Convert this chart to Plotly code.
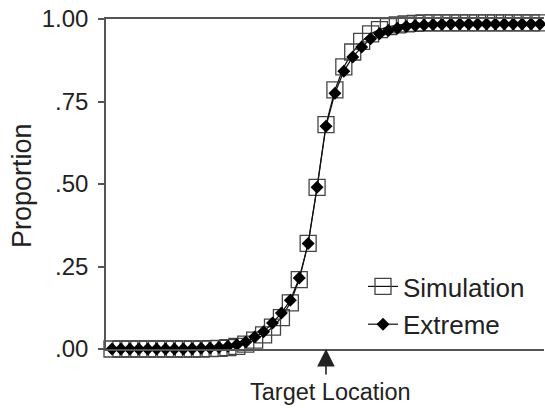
import plotly.graph_objects as go

# ---- data ----
positions = list(range(49))
simulation = [0.0, 0.0, 0.0, 0.0, 0.0, 0.0, 0.0, 0.0, 0.0, 0.0,
              0.0, 0.001, 0.002, 0.004, 0.008, 0.015, 0.027, 0.043, 0.066, 0.095,
              0.14, 0.21, 0.32, 0.49, 0.68, 0.785, 0.855, 0.9, 0.932, 0.955,
              0.968, 0.977, 0.982, 0.985, 0.987, 0.988, 0.988, 0.988, 0.988, 0.988,
              0.988, 0.988, 0.988, 0.988, 0.988, 0.988, 0.988, 0.988, 0.988]
extreme = [0.0, 0.0, 0.0, 0.0, 0.0, 0.0, 0.0, 0.0, 0.0, 0.001,
           0.002, 0.003, 0.005, 0.008, 0.013, 0.021, 0.036, 0.052, 0.079, 0.109,
           0.148, 0.215, 0.32, 0.49, 0.675, 0.775, 0.842, 0.885, 0.915, 0.94,
           0.955, 0.965, 0.972, 0.977, 0.98, 0.982, 0.983, 0.984, 0.985, 0.985,
           0.985, 0.985, 0.985, 0.985, 0.985, 0.985, 0.985, 0.985, 0.985]
target_position = 24
y_tick_vals = [0, 0.25, 0.5, 0.75, 1.0]
y_tick_text = [".00", ".25", ".50", ".75", "1.00"]

FONT = "Liberation Sans, Arial, sans-serif"
TXT = "#222222"

fig = go.Figure()
fig.add_trace(go.Scatter(
    x=positions, y=simulation, name="Simulation", mode="lines+markers",
    legendgroup="a",
    line=dict(color="#111111", width=1.2),
    marker=dict(symbol="square", size=16, color="rgba(255,255,255,0)",
                line=dict(color="#444444", width=1.3)),
    cliponaxis=False,
))
fig.add_trace(go.Scatter(
    x=positions, y=extreme, name="Extreme", mode="lines+markers",
    legendgroup="b",
    line=dict(color="#111111", width=1.2),
    marker=dict(symbol="diamond", size=10, color="#000000",
                line=dict(width=0)),
    cliponaxis=False,
))

fig.update_layout(
    width=545, height=408,
    margin=dict(l=106, r=1, t=19, b=59),
    paper_bgcolor="white", plot_bgcolor="white",
    font=dict(family=FONT, size=24, color=TXT),
    showlegend=True,
    legend=dict(x=(363 - 106) / 438, y=(349 - 263) / 330, xanchor="left", yanchor="top",
                bgcolor="rgba(255,255,255,0)", borderwidth=0,
                font=dict(family=FONT, size=26, color=TXT),
                tracegroupgap=1),
    xaxis=dict(range=[-0.673, 48.45], showgrid=False, zeroline=False,
               showticklabels=False, ticks="", showline=True, linecolor="#555555",
               linewidth=1.5, mirror=True),
    yaxis=dict(range=[0, 1], showgrid=False, zeroline=False,
               tickvals=y_tick_vals, ticktext=y_tick_text,
               ticks="outside", ticklen=6, tickcolor="#555555", tickwidth=1.5,
               ticklabelstandoff=5,
               showline=True, linecolor="#555555", linewidth=1.5,
               tickfont=dict(family=FONT, size=24, color=TXT)),
)

fig.add_annotation(text="Proportion", textangle=-90, xref="paper", yref="paper",
                   x=(22 - 106) / 438, y=(349 - 186) / 330, xanchor="center", yanchor="middle",
                   showarrow=False, font=dict(family=FONT, size=27, color=TXT))
fig.add_annotation(text="Target Location", xref="paper", yref="paper",
                   x=(330 - 106) / 438, y=-(392 - 349) / 330, xanchor="center", yanchor="middle",
                   showarrow=False, font=dict(family=FONT, size=23.5, color=TXT))
fig.add_annotation(text="", x=target_position, y=0, xref="x", yref="y",
                   showarrow=True, ax=0, ay=27, axref="pixel", ayref="pixel",
                   arrowhead=2, arrowsize=2.2, arrowwidth=1.6, arrowcolor="#222222",
                   standoff=0)

fig.write_html("out.html")
